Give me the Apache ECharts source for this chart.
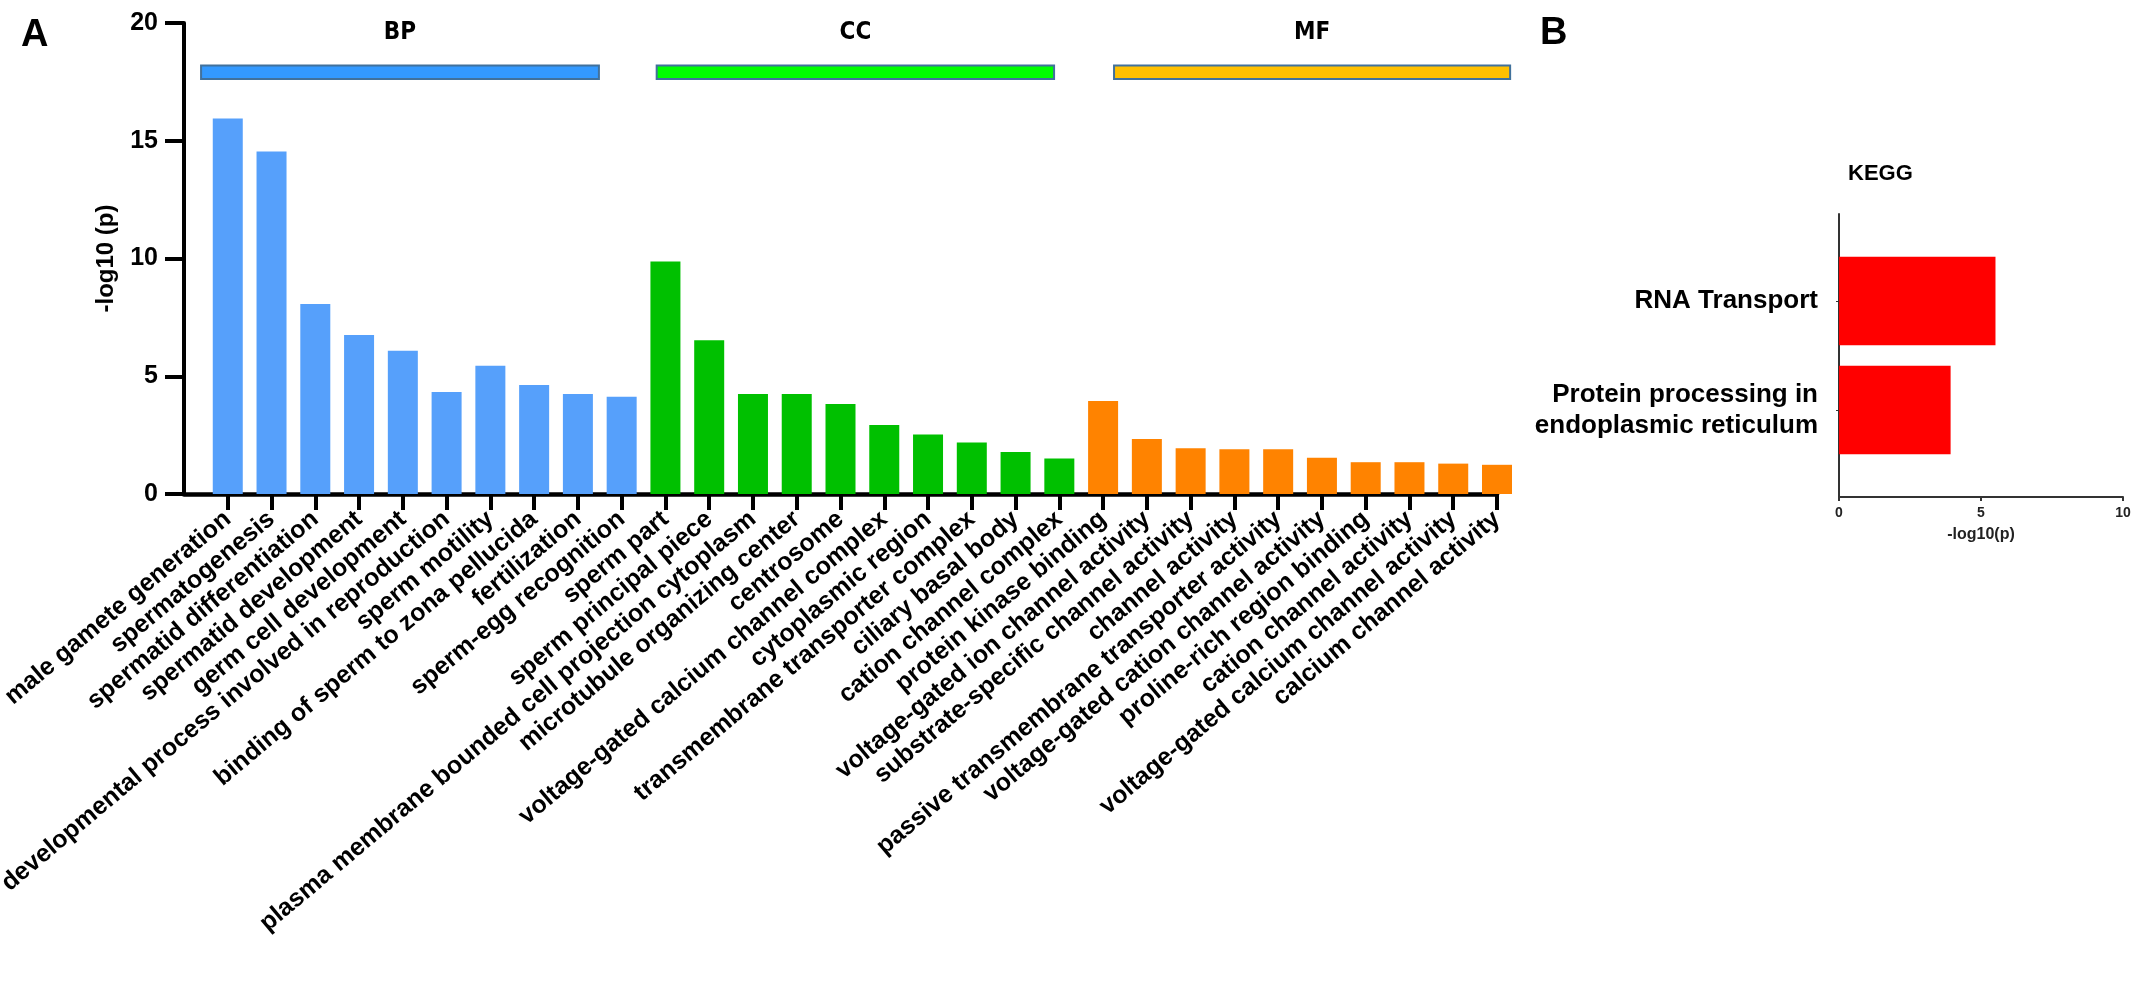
<!DOCTYPE html>
<html>
<head>
    <meta charset="utf-8">
    <title>GO / KEGG enrichment</title>
    <script src="https://cdn.jsdelivr.net/npm/echarts@6/dist/echarts.min.js"></script>
    <style>
        html, body { margin: 0; padding: 0; background: #fff; }
    </style>
</head>
<body>
<div id="container" style="width: 2134px; height: 988px;"></div>

<script type="text/javascript">

    // GO terms, biological process
    var bpTerms = ['male gamete generation', 'spermatogenesis', 'spermatid differentiation', 'spermatid development',
        'germ cell development', 'developmental process involved in reproduction', 'sperm motility',
        'binding of sperm to zona pellucida', 'fertilization', 'sperm-egg recognition'];
    var bpValues = [15.94, 14.54, 8.07, 6.75, 6.08, 4.33, 5.45, 4.63, 4.25, 4.13];

    // cellular component
    var ccTerms = ['sperm part', 'sperm principal piece', 'plasma membrane bounded cell projection cytoplasm',
        'microtubule organizing center', 'centrosome', 'voltage-gated calcium channel complex', 'cytoplasmic region',
        'transmembrane transporter complex', 'ciliary basal body', 'cation channel complex'];
    var ccValues = [9.87, 6.53, 4.25, 4.25, 3.82, 2.93, 2.53, 2.19, 1.78, 1.51];

    // molecular function
    var mfTerms = ['protein kinase binding', 'voltage-gated ion channel activity', 'substrate-specific channel activity',
        'channel activity', 'passive transmembrane transporter activity', 'voltage-gated cation channel activity',
        'proline-rich region binding', 'cation channel activity', 'voltage-gated calcium channel activity',
        'calcium channel activity'];
    var mfValues = [3.95, 2.34, 1.94, 1.9, 1.9, 1.54, 1.35, 1.35, 1.29, 1.24];

    var groupNames = ['BP', 'CC', 'MF'];

    // KEGG pathways
    var keggTerms = ['RNA Transport', 'Protein processing in\nendoplasmic reticulum'];
    var keggValues = [5.51, 3.93];

    var barColors = ['#56a0fb', '#00c000', '#ff8300'];
    var headColors = ['#3399ff', '#00ff00', '#ffc000'];

    // first category is empty so the axis starts one step left of the first bar
    var allTerms = [''].concat(bpTerms, ccTerms, mfTerms);
    var allValues = [null].concat(bpValues, ccValues, mfValues);

    function groupOf(i) {
        if (i <= bpTerms.length) return 0;
        if (i <= bpTerms.length + ccTerms.length) return 1;
        return 2;
    }

    var dom = document.getElementById("container");
    var myChart = echarts.init(dom);
    var font = 'Arial, "Liberation Sans", sans-serif';

    var option = {
        animation: false,
        textStyle: {fontFamily: font},
        title: [
            {text: 'A', left: 16, top: 12, textStyle: {fontSize: 38, fontWeight: 'bold', color: '#000', fontFamily: font}},
            {text: 'B', left: 1535, top: 10, textStyle: {fontSize: 38, fontWeight: 'bold', color: '#000', fontFamily: font}},
            {text: 'KEGG', left: 1843, top: 158, textStyle: {fontSize: 22, fontWeight: 'bold', color: '#000', fontFamily: font}}
        ],
        grid: [
            {left: 184, right: 637, top: 23, bottom: 494, outerBoundsMode: 'none'},
            // KEGG bars
            {left: 1839, right: 11, top: 246.5, bottom: 523.5, outerBoundsMode: 'none'},
            // KEGG axis frame (a bit taller than the bar area)
            {left: 1839, right: 11, top: 214, bottom: 491, outerBoundsMode: 'none'}
        ],
        xAxis: [
            {
                type: 'category',
                gridIndex: 0,
                data: allTerms,
                boundaryGap: false,
                axisLine: {lineStyle: {color: '#000', width: 4.5}},
                axisTick: {
                    length: 16,
                    lineStyle: {color: '#000', width: 4},
                    interval: function (index) { return index > 0; }
                },
                axisLabel: {
                    interval: 0,
                    rotate: 40,
                    margin: 22,
                    fontSize: 25,
                    fontWeight: 'bold',
                    color: '#000',
                    fontFamily: font
                },
                splitLine: {show: false}
            },
            {
                type: 'value',
                gridIndex: 1,
                min: 0,
                max: 10,
                show: false
            },
            {
                type: 'value',
                gridIndex: 2,
                min: 0,
                max: 10,
                interval: 5,
                name: '-log10(p)',
                nameLocation: 'middle',
                nameGap: 30,
                nameTextStyle: {fontSize: 16, fontWeight: 'bold', color: '#222', fontFamily: font},
                axisLine: {show: true, lineStyle: {color: '#333', width: 2}},
                axisTick: {show: true, length: 4, lineStyle: {color: '#333', width: 2}},
                axisLabel: {margin: 9, fontSize: 14, fontWeight: 'bold', color: '#222', fontFamily: font},
                splitLine: {show: false}
            }
        ],
        yAxis: [
            {
                type: 'value',
                gridIndex: 0,
                min: 0,
                max: 20,
                interval: 5,
                name: '-log10 (p)',
                nameLocation: 'middle',
                nameGap: 66,
                nameTextStyle: {fontSize: 24, fontWeight: 'bold', color: '#000', fontFamily: font},
                axisLine: {show: true, lineStyle: {color: '#000', width: 4}},
                axisTick: {show: true, length: 19, lineStyle: {color: '#000', width: 4}},
                axisLabel: {margin: 26, fontSize: 25, fontWeight: 'bold', color: '#000', fontFamily: font},
                splitLine: {show: false}
            },
            {
                type: 'category',
                gridIndex: 1,
                inverse: true,
                data: keggTerms,
                axisLine: {show: false},
                axisTick: {show: true, length: 3, alignWithLabel: true, lineStyle: {color: '#333'}},
                axisLabel: {margin: 21, fontSize: 26, lineHeight: 31, fontWeight: 'bold', color: '#000', align: 'right', fontFamily: font}
            },
            {
                type: 'value',
                gridIndex: 2,
                min: 0,
                max: 1,
                axisLine: {show: true, lineStyle: {color: '#333', width: 2}},
                axisTick: {show: false},
                axisLabel: {show: false},
                splitLine: {show: false}
            }
        ],
        series: [
            {
                type: 'bar',
                xAxisIndex: 0,
                yAxisIndex: 0,
                barWidth: 30,
                clip: false,
                data: allValues,
                itemStyle: {
                    color: function (p) { return barColors[groupOf(p.dataIndex)]; }
                }
            },
            {
                type: 'bar',
                xAxisIndex: 1,
                yAxisIndex: 1,
                barCategoryGap: '19%',
                data: keggValues,
                itemStyle: {color: '#ff0000'}
            }
        ]
    };

    myChart.setOption(option);

    // group header bars above panel A, placed through the axis scale
    var p0 = myChart.convertToPixel({gridIndex: 0}, [0, 0]);
    var p1 = myChart.convertToPixel({gridIndex: 0}, [1, 0]);
    var step = p1[0] - p0[0];
    var yTop = myChart.convertToPixel({gridIndex: 0}, [0, 18.2])[1];
    var yBot = myChart.convertToPixel({gridIndex: 0}, [0, 17.62])[1];
    var yLab = myChart.convertToPixel({gridIndex: 0}, [0, 19.6])[1];
    var spans = [[0.39, 9.48], [10.8, 19.88], [21.25, 30.3]];
    var graphics = [];
    for (var g = 0; g < spans.length; g++) {
        var x0 = p0[0] + spans[g][0] * step;
        var x1 = p0[0] + spans[g][1] * step;
        graphics.push({
            type: 'rect',
            shape: {x: x0, y: yTop, width: x1 - x0, height: yBot - yTop},
            style: {fill: headColors[g], stroke: '#41719c', lineWidth: 2}
        });
        graphics.push({
            type: 'text',
            x: (x0 + x1) / 2,
            y: yLab,
            style: {
                text: groupNames[g],
                fill: '#000',
                font: 'bold 24px "Liberation Sans Narrow", "DejaVu Sans Condensed", sans-serif',
                textAlign: 'center',
                textVerticalAlign: 'middle'
            }
        });
    }
    myChart.setOption({graphic: graphics});

</script>
</body>
</html>
